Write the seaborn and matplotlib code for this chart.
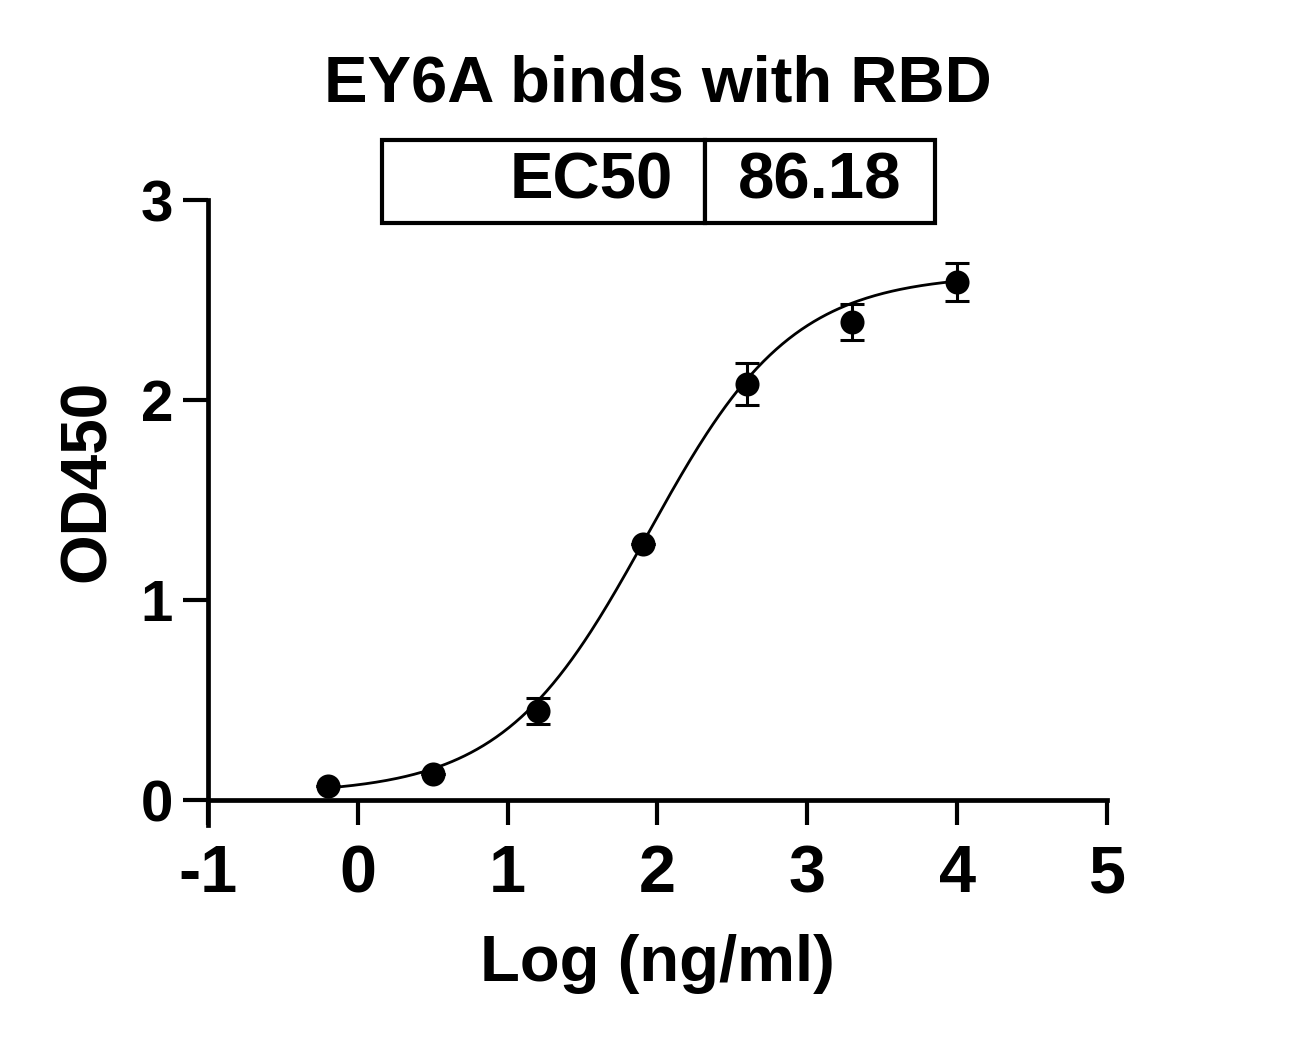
import numpy as np
import pandas as pd
import matplotlib
matplotlib.use("Agg")
import matplotlib.pyplot as plt
import seaborn as sns

# measured points (log concentration, mean OD450, SD)
log_conc = [-0.2, 0.5, 1.2, 1.9, 2.6, 3.3, 4.0]
od450    = [0.07, 0.13, 0.445, 1.28, 2.08, 2.39, 2.59]
od_sd    = [0.0, 0.0, 0.065, 0.0, 0.105, 0.09, 0.095]

# 4PL fit parameters
fit_bottom = 0.03
fit_top    = 2.63
ec50       = 86.18
hill       = 0.9

x_ticks = [-1, 0, 1, 2, 3, 4, 5]
y_ticks = [0, 1, 2, 3]

sns.set_theme(style="ticks")
plt.rcParams["font.family"] = ["Liberation Sans", "DejaVu Sans"]
plt.rcParams["font.weight"] = "bold"
plt.rcParams["text.color"] = "black"
plt.rcParams["axes.labelcolor"] = "black"
plt.rcParams["xtick.color"] = "black"
plt.rcParams["ytick.color"] = "black"

df = pd.DataFrame({"x": log_conc, "y": od450, "sd": od_sd})

xfit = np.linspace(min(log_conc), max(log_conc), 300)
yfit = fit_bottom + (fit_top - fit_bottom) / (1 + 10 ** ((np.log10(ec50) - xfit) * hill))
fit_df = pd.DataFrame({"x": xfit, "y": yfit})

fig = plt.figure(figsize=(13.07, 10.45), dpi=100)
ax = fig.add_axes([0.1591, 0.2344, 0.6879, 0.5742])

sns.lineplot(data=fit_df, x="x", y="y", ax=ax, color="black", linewidth=2.0)
ax.errorbar(df["x"], df["y"], yerr=df["sd"], fmt="none", ecolor="black",
            elinewidth=2.2, capsize=8.5, capthick=2.2, zorder=3)
sns.scatterplot(data=df, x="x", y="y", ax=ax, color="black", s=300,
                linewidth=0, zorder=4)

ax.set_xlim(-1, 5)
ax.set_ylim(0, 3)
ax.set_xticks(x_ticks)
ax.set_yticks(y_ticks)
ax.set_xticklabels([str(t) for t in x_ticks], fontsize=48, fontweight="bold")
ax.set_yticklabels([str(t) for t in y_ticks], fontsize=42, fontweight="bold")
ax.tick_params(axis="both", width=3, length=18, color="black")
ax.tick_params(axis="x", pad=14)
ax.tick_params(axis="y", pad=7)
ax.set_xlabel("Log (ng/ml)", fontsize=47, fontweight="bold", labelpad=20)
ax.set_ylabel("OD450", fontsize=46, fontweight="bold")
ax.yaxis.set_label_coords(-0.100, 0.532)
for side in ["top", "right"]:
    ax.spines[side].set_visible(False)
for side in ["left", "bottom"]:
    ax.spines[side].set_linewidth(3.4)
    ax.spines[side].set_color("black")
ax.spines["left"].set_bounds(-0.125, 3)

fig.text(0.503, 0.919, "EY6A binds with RBD", ha="center", va="center",
         fontsize=47, fontweight="bold")

tbl = ax.table(cellText=[["EC50", f"{ec50:.2f}"]], colWidths=[323, 230],
               bbox=[0.1935, 0.9617, 0.615, 0.138], cellLoc="center")
tbl.auto_set_font_size(False)
for (r, c), cell in tbl.get_celld().items():
    cell.set_linewidth(3)
    cell.set_edgecolor("black")
    cell.get_text().set_fontsize(47)
    cell.get_text().set_fontweight("bold")
    cell.set_clip_on(False)
tbl[0, 0].PAD = 0.1
tbl[0, 0]._loc = "right"
tbl[0, 0].get_text().set_ha("right")

fig.savefig("out.png", dpi=100)
